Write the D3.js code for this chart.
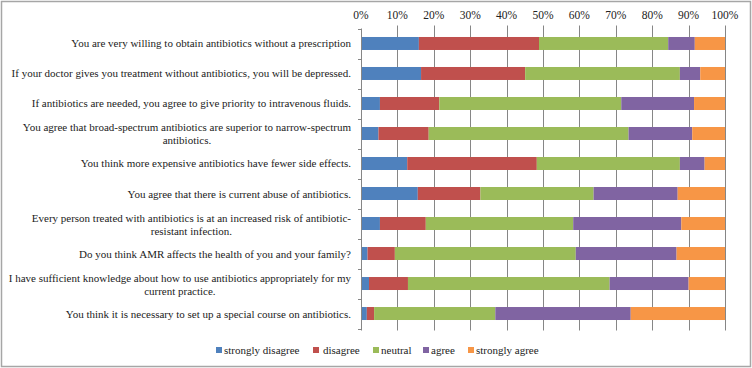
<!DOCTYPE html>
<html>
<head>
<meta charset="utf-8">
<script src="https://cdn.jsdelivr.net/npm/d3@7"></script>
<style>
  body { margin: 0; background: #fff; }
</style>
</head>
<body>
<svg id="chart" width="752" height="368"></svg>
<script>
// statements, top to bottom (each may wrap over two lines)
const questions = [
  ["You are very willing to obtain antibiotics without a prescription"],
  ["If your doctor gives you treatment without antibiotics, you will be depressed."],
  ["If antibiotics are needed, you agree to give priority to intravenous fluids."],
  ["You agree that broad-spectrum antibiotics are superior to narrow-spectrum", "antibiotics."],
  ["You think more expensive antibiotics have fewer side effects."],
  ["You agree that there is current abuse of antibiotics."],
  ["Every person treated with antibiotics is at an increased risk of antibiotic-", "resistant infection."],
  ["Do you think AMR affects the health of you and your family?"],
  ["I have sufficient knowledge about how to use antibiotics appropriately for my", "current practice."],
  ["You think it is necessary to set up a special course on antibiotics."]
];

const levels = ["strongly disagree", "disagree", "neutral", "agree", "strongly agree"];
const colors = ["#4F81BD", "#C0504D", "#9BBB59", "#8064A2", "#F79646"];

// percent per answer level, same order as questions
const stronglyDisagree = [15.9, 16.5, 5.2, 4.8, 12.7, 15.6, 5.2, 1.8, 2.2, 1.6];
const disagree         = [33.0, 28.6, 16.3, 13.8, 35.6, 17.2, 12.6, 7.5, 10.7, 2.0];
const neutral          = [35.5, 42.5, 50.0, 54.9, 39.3, 31.1, 40.5, 49.7, 55.4, 33.3];
const agree            = [7.3, 5.6, 20.0, 17.5, 6.8, 23.1, 29.7, 27.7, 21.7, 37.2];
const stronglyAgree    = [8.3, 6.8, 8.5, 9.0, 5.6, 13.0, 12.0, 13.3, 10.0, 25.9];

const xTicks = [0, 10, 20, 30, 40, 50, 60, 70, 80, 90, 100];

const FONT = '"Liberation Serif"';

const svg = d3.select("#chart");
const W = 752, H = 368;
const plot = {left: 361, right: 725, top: 28.5, bottom: 328.5};

// outer border
svg.append("rect")
  .attr("x", 1.5).attr("y", 1.5)
  .attr("width", W - 3).attr("height", H - 3)
  .attr("fill", "#fff").attr("stroke", "#a6a6a6").attr("stroke-width", 1.5);

let rows = questions.map((q, i) => ({
  idx: i,
  vals: [stronglyDisagree[i], disagree[i], neutral[i], agree[i], stronglyAgree[i]]
}));

let x = d3.scaleLinear().domain([0, 100]).range([plot.left, plot.right]);
let y = d3.scaleBand().domain(d3.range(questions.length))
  .range([plot.top, plot.bottom]).paddingInner(0.567).paddingOuter(0.283);

// gridlines
svg.append("g").selectAll("line")
  .data(xTicks.slice(1))
  .join("line")
  .attr("x1", d => Math.round(x(d)) + 0.5).attr("x2", d => Math.round(x(d)) + 0.5)
  .attr("y1", plot.top - 3).attr("y2", plot.bottom + 2)
  .attr("stroke", "#868686").attr("stroke-width", 1);

// top tick labels
svg.append("g").selectAll("text")
  .data(xTicks)
  .join("text")
  .attr("x", d => x(d)).attr("y", 19)
  .attr("text-anchor", "middle")
  .style("font-family", FONT)
  .attr("font-size", 11.5).attr("fill", "#222")
  .text(d => d + "%");

// stacked bars
let stack = d3.stack().keys(d3.range(levels.length)).value((d, k) => d.vals[k]);
let series = stack(rows);

svg.append("g").selectAll("g")
  .data(series)
  .join("g")
  .attr("fill", (d, k) => colors[k])
  .selectAll("rect")
  .data(d => d)
  .join("rect")
  .attr("x", d => x(d[0]))
  .attr("width", d => x(d[1]) - x(d[0]))
  .attr("y", d => y(d.data.idx))
  .attr("height", y.bandwidth());

// left axis line + ticks
let bandStep = y.step();
let ax = svg.append("g").attr("stroke", "#868686");
ax.append("line")
  .attr("x1", plot.left + 0.5).attr("x2", plot.left + 0.5)
  .attr("y1", plot.top).attr("y2", plot.bottom + 2);
ax.selectAll(".tk")
  .data(d3.range(questions.length + 1))
  .join("line")
  .attr("x1", plot.left - 3).attr("x2", plot.left + 0.5)
  .attr("y1", d => Math.round(plot.top + d * bandStep) + 0.5)
  .attr("y2", d => Math.round(plot.top + d * bandStep) + 0.5);

// category labels
let labelRight = 351;
let lab = svg.append("g").style("font-family", FONT).attr("font-size", 11).attr("fill", "#222");
questions.forEach((lines, i) => {
  let cy = y(i) + y.bandwidth() / 2;
  if (lines.length == 1) {
    lab.append("text")
      .attr("x", labelRight).attr("y", cy + 4)
      .attr("text-anchor", "end")
      .text(lines[0]);
  } else {
    let t1 = lab.append("text")
      .attr("x", labelRight).attr("y", cy - 2)
      .attr("text-anchor", "end")
      .text(lines[0]);
    let w = t1.node().getComputedTextLength();
    lab.append("text")
      .attr("x", labelRight - w / 2).attr("y", cy + 11)
      .attr("text-anchor", "middle")
      .text(lines[1]);
  }
});

// legend
let legendX = [216, 313, 373, 423, 468];
let leg = svg.append("g").style("font-family", FONT).attr("font-size", 11).attr("fill", "#222");
levels.forEach((name, k) => {
  leg.append("rect")
    .attr("x", legendX[k]).attr("y", 347)
    .attr("width", 6).attr("height", 6)
    .attr("fill", colors[k]);
  leg.append("text")
    .attr("x", legendX[k] + (k == 1 ? 10 : 8)).attr("y", 354)
    .text(name);
});
</script>
</body>
</html>
